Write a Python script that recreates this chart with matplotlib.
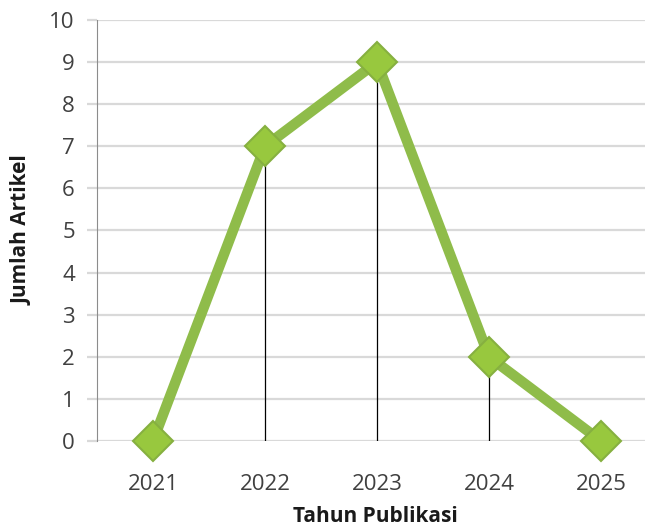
import matplotlib.pyplot as plt

years = ["2021", "2022", "2023", "2024", "2025"]
articles = [0, 7, 9, 2, 0]

plt.rcParams["font.family"] = ["Open Sans", "DejaVu Sans"]

fig = plt.figure(figsize=(6.45, 5.29), dpi=100)
ax = fig.add_axes([97 / 645, 1 - 441 / 529, 560 / 645, 421 / 529])

x = list(range(len(years)))
ax.vlines(x, 0, articles, color="black", lw=0.9, zorder=2)
ax.plot(x, articles, color="#8fbc4a", lw=7.5, solid_joinstyle="miter",
        marker="D", markersize=20, markerfacecolor="#98c83e",
        markeredgecolor="#86b040", markeredgewidth=1.5, zorder=3,
        clip_on=False)

ax.set_xlim(-0.5, 4.5)
ax.set_ylim(0, 10)
ax.set_yticks(range(0, 11))
ax.set_xticks(x)
ax.set_xticklabels(years)
ax.yaxis.grid(True, color="#d9d9d9", lw=1.6)
ax.set_axisbelow(True)

for side in ("top", "right", "bottom"):
    ax.spines[side].set_visible(False)
ax.spines["left"].set_color("#8c8c8c")
ax.tick_params(axis="y", length=7, width=1.6, color="#d9d9d9",
               labelsize=16, labelcolor="#404040", pad=9)
ax.tick_params(axis="x", length=0, labelsize=16, labelcolor="#404040", pad=24)

fig.text(375 / 645, 1 - 517 / 529, "Tahun Publikasi", ha="center", va="center",
         fontsize=15, fontweight="bold", color="#1a1a1a")
fig.text(22 / 645, 1 - 230 / 529, "Jumlah Artikel", ha="center", va="center",
         rotation=90, fontsize=15, fontweight="bold", color="#1a1a1a")

fig.savefig("out.png", dpi=100)
